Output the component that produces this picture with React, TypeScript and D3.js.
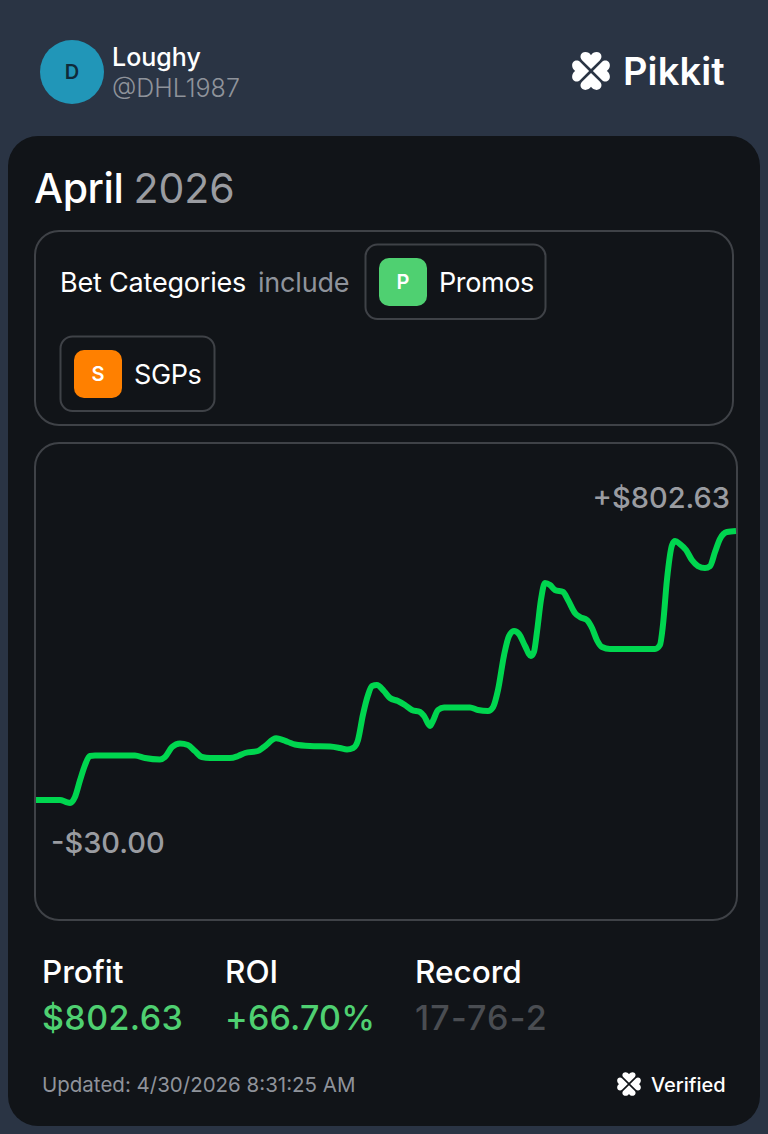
import React from "react";
import * as d3 from "d3";

const days = [0,1.03,1.29,1.46,1.67,1.89,2.1,2.31,2.53,4.24,4.67,5.31,5.53,5.83,6.17,6.51,6.81,7.11,7.46,8.31,8.66,8.96,9.51,9.77,10.29,10.8,11.1,11.74,12.6,13.03,13.33,13.59,13.8,14.01,14.23,14.4,14.61,14.91,15.17,15.51,15.81,16.11,16.46,16.63,16.89,17.01,17.23,17.49,18.6,18.94,19.37,19.59,19.8,20.06,20.27,20.49,20.7,20.96,21.21,21.34,21.47,21.64,21.81,22.03,22.24,22.59,22.8,23.1,23.31,23.61,23.83,24.04,24.26,24.6,26.53,26.74,26.87,27.04,27.26,27.39,27.6,27.86,28.11,28.37,28.67,28.89,29.1,29.31,29.61,30];
const profit = [-30,-30,-36.2,-39,-20.7,31.9,78.3,106.2,107.7,107.7,100,95.3,103,134,144.9,140.2,121.7,103,100,100,106.2,115.5,121.7,134,161,149.5,141.8,137.1,135.6,130.9,126.3,130.9,155.7,233.1,295,322.8,325.9,307.4,285.7,276.4,264,248.6,242.4,230,199,214.5,248.6,256.3,256.3,248.6,245.5,257.8,310.5,418.8,477.6,493,483.8,446.6,415.7,428,490,589,641.6,635.4,620,613.8,589,548.8,536.4,527.1,502.3,465.2,443.5,437.3,437.3,449.7,511.6,650.9,759.2,771.6,762.3,743.8,712.8,694.2,688,694.2,737.5,777.8,799.5,802.63];

const userName = "Loughy";
const userHandle = "@DHL1987";
const brand = "Pikkit";
const monthLabel = "April";
const yearLabel = "2026";
const startLabel = "-$30.00";
const endLabel = "+$802.63";
const statNames = ["Profit", "ROI", "Record"];
const statValues = ["$802.63", "+66.70%", "17-76-2"];
const updatedLabel = "Updated: 4/30/2026 8:31:25 AM";

const FONT = "Inter, 'Noto Sans', sans-serif";
const HEART = "M0,-1.6 L-7.6,-9.2 C-10.2,-11.8 -8.6,-16 -4.8,-16 C-2.8,-16 -1,-15 0,-13.4 C1,-15 2.8,-16 4.8,-16 C8.6,-16 10.2,-11.8 7.6,-9.2 Z";

function Clover({ x, y, s }: { x: number; y: number; s: number }) {
  return (
    <g transform={`translate(${x},${y}) scale(${s})`} fill="#ffffff">
      {[0, 90, 180, 270].map((a) => (
        <path key={a} d={HEART} transform={`rotate(${a})`} />
      ))}
    </g>
  );
}

function Chip({ x, y, w, color, letter, label }: { x: number; y: number; w: number; color: string; letter: string; label: string }) {
  return (
    <g>
      <rect x={x + 0.5} y={y + 0.5} width={w} height={74.5} rx={12} fill="none" stroke="#3f4247" strokeWidth={2} />
      <rect x={x + 14} y={y + 14} width={48} height={48} rx={10} fill={color} />
      <text x={x + 38} y={y + 45} textAnchor="middle" fontSize={20} fontWeight={600} fill="#ffffff">{letter}</text>
      <text x={x + 74} y={y + 48} fontSize={27} fontWeight={400} letterSpacing={-0.4} fill="#ffffff">{label}</text>
    </g>
  );
}

export default function App() {
  const x = d3.scaleLinear().domain([0, 30]).range([36, 736]);
  const y = d3.scaleLinear().domain([-30, 802.63]).range([800, 531]);
  const line = d3
    .line<number>()
    .x((d) => x(d))
    .y((_, i) => y(profit[i]))
    .curve(d3.curveMonotoneX);
  const statX = [42, 225, 415];

  return (
    <svg
      width={768}
      height={1134}
      viewBox="0 0 768 1134"
      style={{ position: "absolute", left: 0, top: 0, display: "block" }}
      fontFamily={FONT}
    >
      <rect width={768} height={1134} fill="#2a3444" />
      <circle cx={72} cy={72} r={32} fill="#2196b8" />
      <text x={72} y={79} textAnchor="middle" fontSize={20} fontWeight={600} fill="#0f2a3a">D</text>
      <text x={112} y={66} fontSize={25} fontWeight={500} fill="#ffffff">{userName}</text>
      <text x={112} y={97} fontSize={25} fontWeight={300} fill="#8f939b">{userHandle}</text>
      <Clover x={591} y={71} s={1.18} />
      <text x={623} y={85} fontSize={38} fontWeight={600} fill="#ffffff" letterSpacing={0.1}>{brand}</text>

      <rect x={8} y={136} width={752} height={990} rx={30} fill="#111418" />
      <text x={34} y={203} fontSize={41} fontWeight={500} fill="#ffffff">
        <tspan letterSpacing={-0.4}>{monthLabel}</tspan>
        <tspan dx={10} fontWeight={400} fill="#9a9ca1">{yearLabel}</tspan>
      </text>

      <rect x={35} y={231} width={698} height={194} rx={24} fill="none" stroke="#3f4247" strokeWidth={2} />
      <text x={60} y={292} fontSize={27} letterSpacing={-0.2} fill="#ffffff">Bet Categories</text>
      <text x={258} y={292} fontSize={27} letterSpacing={-0.2} fill="#8f939b">include</text>
      <Chip x={365} y={244} w={180} color="#4fd071" letter="P" label="Promos" />
      <Chip x={60} y={336} w={154} color="#ff8000" letter="S" label="SGPs" />

      <rect x={35} y={443} width={702} height={477} rx={24} fill="none" stroke="#3f4247" strokeWidth={2} />
      <text x={730} y={508} textAnchor="end" fontSize={29} fontWeight={500} fill="#9a9ca1">{endLabel}</text>
      <text x={51} y={853} fontSize={29} fontWeight={500} fill="#9a9ca1">{startLabel}</text>
      <path d={line(days) ?? ""} fill="none" stroke="#00d64f" strokeWidth={6} strokeLinecap="butt" strokeLinejoin="round" />

      {statNames.map((n, i) => (
        <text key={n} x={statX[i]} y={983} fontSize={31.5} fontWeight={500} fill="#ffffff">{n}</text>
      ))}
      {statValues.map((v, i) => (
        <text key={v} x={statX[i]} y={1030} fontSize={34} fontWeight={500} letterSpacing={i === 2 ? 1.2 : i === 0 ? 0.4 : 0.2} fill={i === 2 ? "#4a4d52" : "#4fd071"}>{v}</text>
      ))}
      <text x={42} y={1092} fontSize={20.5} fill="#8f939b">{updatedLabel}</text>
      <Clover x={629} y={1084} s={0.74} />
      <text x={651} y={1092} fontSize={20} fontWeight={500} fill="#ffffff">Verified</text>
    </svg>
  );
}
